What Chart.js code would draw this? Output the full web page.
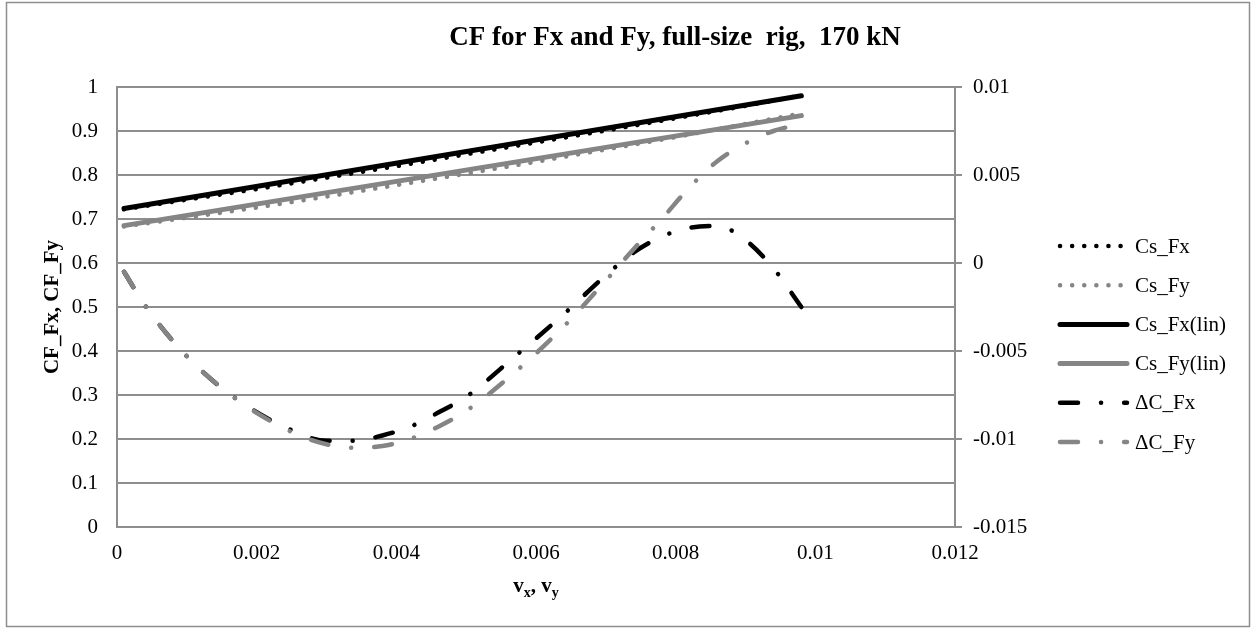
<!DOCTYPE html>
<html><head><meta charset="utf-8">
<script src="https://cdn.jsdelivr.net/npm/chart.js@4.4.1/dist/chart.umd.min.js"></script>
<style>html,body{margin:0;padding:0;background:#fff;}#wrap{position:relative;width:1254px;height:628px;}</style>
</head><body><div id="wrap"><canvas id="c" width="1254" height="628"></canvas></div>
<script>
// ---- data ----
const csX = [0.0001, 0.001, 0.002, 0.003, 0.004, 0.005, 0.006, 0.007, 0.008, 0.009, 0.0098];
const csFx = [0.722, 0.744, 0.768, 0.794, 0.820, 0.847, 0.874, 0.901, 0.929, 0.957, 0.981];
const csFy = [0.683, 0.703, 0.726, 0.751, 0.777, 0.803, 0.830, 0.858, 0.886, 0.916, 0.940];
const linX = [0.0001, 0.0098];
const csFxLin = [0.724, 0.980];
const csFyLin = [0.685, 0.935];
const dX = [0.0001, 0.0004, 0.001, 0.0017, 0.0025, 0.003, 0.0034, 0.0038, 0.0042, 0.0046, 0.005, 0.0057, 0.0064, 0.007, 0.0074, 0.0078, 0.0082, 0.0086, 0.009, 0.0094, 0.0098];
const dCFx = [-0.0005, -0.0024, -0.0053, -0.0077, -0.0095, -0.0101, -0.0101, -0.0098, -0.0093, -0.0085, -0.0076, -0.0053, -0.0029, -0.0007, 0.0006, 0.0015, 0.0020, 0.0021, 0.0013, -0.0003, -0.0025];
const dCFy = [-0.0005, -0.0024, -0.0053, -0.0077, -0.0096, -0.0103, -0.0105, -0.0104, -0.0100, -0.0093, -0.0084, -0.0062, -0.0036, -0.0010, 0.0008, 0.0025, 0.0043, 0.0058, 0.0068, 0.0075, 0.0079];
const xTickLabels = ['0', '0.002', '0.004', '0.006', '0.008', '0.01', '0.012'];
const yTickLabels = ['0', '0.1', '0.2', '0.3', '0.4', '0.5', '0.6', '0.7', '0.8', '0.9', '1'];
const y2TickLabels = ['-0.015', '-0.01', '-0.005', '0', '0.005', '0.01'];
const seriesNames = ['Cs_Fx', 'Cs_Fy', 'Cs_Fx(lin)', 'Cs_Fy(lin)', '\u0394C_Fx', '\u0394C_Fy'];
const chartTitle = 'CF for Fx and Fy, full-size  rig,  170 kN';

// ---- styling ----
const FONT = "'Liberation Serif', 'Times New Roman', serif";
const GRID = '#8e8e8e';
const BLACK = '#000000';
const GRAY = '#858585';
const pts = (xs, ys) => xs.map((x, i) => ({x: x, y: ys[i]}));
const DOT = [0.1, 12];
const DASHDOT = [18, 23, 0.1, 23];

const datasets = [
  {label: seriesNames[0], data: pts(csX, csFx), yAxisID: 'y', borderColor: BLACK, borderWidth: 4.5, borderDash: DOT, borderCapStyle: 'round', order: 5},
  {label: seriesNames[1], data: pts(csX, csFy), yAxisID: 'y', borderColor: GRAY, borderWidth: 4.5, borderDash: DOT, borderCapStyle: 'round', order: 4},
  {label: seriesNames[2], data: pts(linX, csFxLin), yAxisID: 'y', borderColor: BLACK, borderWidth: 5, borderCapStyle: 'round', order: 3},
  {label: seriesNames[3], data: pts(linX, csFyLin), yAxisID: 'y', borderColor: GRAY, borderWidth: 5, borderCapStyle: 'round', order: 2},
  {label: seriesNames[4], data: pts(dX, dCFx), yAxisID: 'y2', borderColor: BLACK, borderWidth: 4.5, borderDash: DASHDOT, borderCapStyle: 'round', order: 1, tension: 0.4},
  {label: seriesNames[5], data: pts(dX, dCFy), yAxisID: 'y2', borderColor: GRAY, borderWidth: 4.5, borderDash: DASHDOT, borderCapStyle: 'round', order: 0, tension: 0.4}
];
datasets.forEach(d => { d.pointRadius = 0; d.fill = false; d.borderJoinStyle = 'round'; d.cubicInterpolationMode = d.tension ? 'monotone' : 'default'; });

const decor = {
  id: 'decor',
  beforeDraw(chart) {
    const ctx = chart.ctx;
    ctx.save();
    ctx.fillStyle = '#fff';
    ctx.fillRect(0, 0, chart.width, chart.height);
    ctx.strokeStyle = GRID;
    ctx.lineWidth = 1.5;
    ctx.strokeRect(6.5, 2.5, 1243, 624);
    ctx.restore();
  },
  afterDraw(chart) {
    const ctx = chart.ctx;
    ctx.save();
    ctx.fillStyle = '#000';
    // title
    ctx.font = 'bold 27px ' + FONT;
    ctx.textAlign = 'center';
    ctx.textBaseline = 'middle';
    ctx.fillText(chartTitle, 675, 38);
    // x axis title with subscripts
    const xa = chart.scales.x;
    const cx = (xa.left + xa.right) / 2;
    const big = 'bold 21px ' + FONT, small = 'bold 14px ' + FONT;
    const parts = [['v', big, 0], ['x', small, 5], [', v', big, 0], ['y', small, 5]];
    let w = 0;
    parts.forEach(p => { ctx.font = p[1]; w += ctx.measureText(p[0]).width; });
    let px = cx - w / 2;
    ctx.textAlign = 'left';
    ctx.textBaseline = 'alphabetic';
    parts.forEach(p => { ctx.font = p[1]; ctx.fillText(p[0], px, 592 + p[2]); px += ctx.measureText(p[0]).width; });
    // legend
    ctx.font = '21px ' + FONT;
    ctx.textBaseline = 'middle';
    chart.data.datasets.forEach((ds, i) => {
      const y = 246 + i * 39.2;
      ctx.save();
      ctx.strokeStyle = ds.borderColor;
      ctx.lineWidth = ds.borderWidth;
      ctx.lineCap = ds.borderCapStyle || 'butt';
      ctx.setLineDash(ds.borderDash || []);
      ctx.beginPath();
      ctx.moveTo(1060, y);
      ctx.lineTo(1127, y);
      ctx.stroke();
      ctx.restore();
      ctx.fillStyle = '#000';
      ctx.fillText(ds.label, 1135, y + 1);
    });
    ctx.restore();
  }
};

const tickFont = {family: FONT, size: 21};
new Chart(document.getElementById('c'), {
  type: 'line',
  data: {datasets: datasets},
  plugins: [decor],
  options: {
    responsive: false,
    animation: false,
    layout: {padding: {top: 87, left: 0, right: 0, bottom: 0}},
    plugins: {legend: {display: false}, title: {display: false}, tooltip: {enabled: false}},
    scales: {
      x: {
        type: 'linear', min: 0, max: 0.012,
        ticks: {stepSize: 0.002, padding: 14, font: tickFont, color: '#000', maxRotation: 0, callback: (v, i) => xTickLabels[i]},
        grid: {display: false, drawTicks: false},
        border: {display: true, color: GRID, width: 2},
        afterFit(s) { s.height = 101; }
      },
      y: {
        position: 'left', min: 0, max: 1,
        ticks: {stepSize: 0.1, padding: 19, font: tickFont, color: '#000', callback: (v, i) => yTickLabels[i]},
        grid: {color: GRID, lineWidth: 2, drawTicks: false},
        border: {display: true, color: GRID, width: 2},
        title: {display: true, text: 'CF_Fx, CF_Fy', color: '#000', font: {family: FONT, size: 21, weight: 'bold'}, padding: {top: 40, bottom: 0}},
        afterFit(s) { s.width = 117; }
      },
      y2: {
        position: 'right', min: -0.015, max: 0.01,
        ticks: {stepSize: 0.005, padding: 11, font: tickFont, color: '#000', callback: (v, i) => y2TickLabels[i]},
        grid: {drawOnChartArea: false, drawTicks: true, tickLength: 7, color: GRID, lineWidth: 2},
        border: {display: true, color: GRID, width: 2},
        afterFit(s) { s.width = 299; }
      }
    }
  }
});
</script></body></html>
